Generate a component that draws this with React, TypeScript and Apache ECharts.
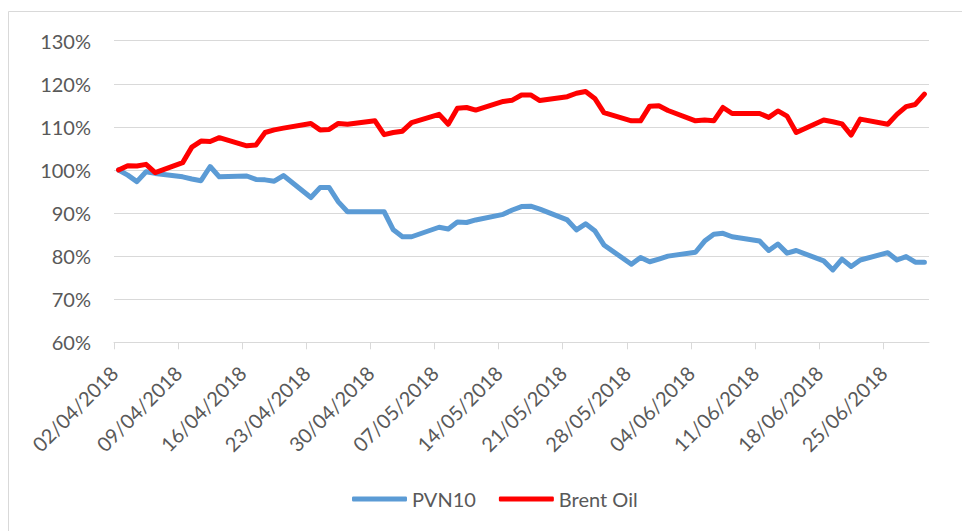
import React, { useEffect, useRef } from "react";
import * as echarts from "echarts";

const dates: string[] = [
  "02/04/2018", "03/04/2018", "04/04/2018", "05/04/2018", "06/04/2018",
  "09/04/2018", "10/04/2018", "11/04/2018", "12/04/2018", "13/04/2018",
  "16/04/2018", "17/04/2018", "18/04/2018", "19/04/2018", "20/04/2018",
  "23/04/2018", "24/04/2018", "25/04/2018", "26/04/2018", "27/04/2018",
  "30/04/2018", "01/05/2018", "02/05/2018", "03/05/2018", "04/05/2018",
  "07/05/2018", "08/05/2018", "09/05/2018", "10/05/2018", "11/05/2018",
  "14/05/2018", "15/05/2018", "16/05/2018", "17/05/2018", "18/05/2018",
  "21/05/2018", "22/05/2018", "23/05/2018", "24/05/2018", "25/05/2018",
  "28/05/2018", "29/05/2018", "30/05/2018", "31/05/2018", "01/06/2018",
  "04/06/2018", "05/06/2018", "06/06/2018", "07/06/2018", "08/06/2018",
  "11/06/2018", "12/06/2018", "13/06/2018", "14/06/2018", "15/06/2018",
  "18/06/2018", "19/06/2018", "20/06/2018", "21/06/2018", "22/06/2018",
  "25/06/2018", "26/06/2018", "27/06/2018", "28/06/2018", "29/06/2018",
];

const pvn10: number[] = [
  100, 98.8, 97.3, 99.6, 99.2,
  98.4, 97.9, 97.5, 100.8, 98.4,
  98.6, 97.8, 97.7, 97.4, 98.7,
  93.6, 95.9, 95.9, 92.6, 90.3,
  90.3, 90.3, 86.1, 84.5, 84.5,
  86.7, 86.3, 87.9, 87.8, 88.4,
  89.7, 90.7, 91.5, 91.6, 90.9,
  88.4, 86.1, 87.5, 85.9, 82.6,
  78.1, 79.7, 78.7, 79.3, 80.0,
  80.9, 83.5, 85.1, 85.3, 84.5,
  83.5, 81.3, 82.8, 80.7, 81.3,
  78.9, 76.8, 79.3, 77.6, 79.1,
  80.8, 79.1, 79.9, 78.6, 78.6,
];

const brentOil: number[] = [
  100, 101.0, 100.9, 101.3, 99.4,
  101.7, 105.3, 106.7, 106.6, 107.5,
  105.6, 105.8, 108.7, 109.3, 109.7,
  110.8, 109.3, 109.4, 110.8, 110.6,
  111.4, 108.2, 108.7, 109.0, 111.0,
  112.9, 110.6, 114.3, 114.5, 113.9,
  115.9, 116.2, 117.4, 117.4, 116.1,
  117.0, 117.8, 118.2, 116.6, 113.3,
  111.4, 111.4, 114.8, 114.9, 113.8,
  111.4, 111.6, 111.4, 114.5, 113.1,
  113.1, 112.2, 113.7, 112.5, 108.7,
  111.6, 111.2, 110.7, 108.1, 111.8,
  110.6, 112.9, 114.7, 115.2, 117.6,
];

// tick labels (days from 02/04/2018, every 7 days)
const tickDates: string[] = [
  "02/04/2018", "09/04/2018", "16/04/2018", "23/04/2018", "30/04/2018",
  "07/05/2018", "14/05/2018", "21/05/2018", "28/05/2018", "04/06/2018",
  "11/06/2018", "18/06/2018", "25/06/2018",
];
const axisStart = "02/04/2018";
const axisEnd = "30/06/2018";

const DAY = 86400000;
function parseDate(s: string): number {
  const [d, m, y] = s.split("/").map(Number);
  return Date.UTC(y, m - 1, d);
}
const t0 = parseDate(axisStart);
function dayOffset(s: string): number {
  return Math.round((parseDate(s) - t0) / DAY);
}
function fmt(v: number): string {
  const dt = new Date(t0 + Math.round(v) * DAY);
  const dd = String(dt.getUTCDate()).padStart(2, "0");
  const mm = String(dt.getUTCMonth() + 1).padStart(2, "0");
  return `${dd}/${mm}/${dt.getUTCFullYear()}`;
}

export default function App() {
  const ref = useRef<HTMLDivElement>(null);
  useEffect(() => {
    document.body.style.margin = "0";
    if (!ref.current) return;
    const chart = echarts.init(ref.current, undefined, { renderer: "svg" });
    const tickVals = tickDates.map(dayOffset);
    const font = "Lato, 'Open Sans', sans-serif";
    chart.setOption({
      animation: false,
      backgroundColor: "#ffffff",
      textStyle: { fontFamily: font },
      graphic: [
        {
          type: "rect",
          shape: { x: 8.5, y: 11.5, width: 2000, height: 2000 },
          style: { fill: "none", stroke: "#d9d9d9", lineWidth: 1 },
          silent: true,
        },
      ],
      grid: { left: 114, right: 33, top: 40.7, bottom: 188.7 },
      legend: {
        left: 347,
        top: 484,
        icon: "roundRect",
        itemWidth: 55,
        itemHeight: 5,
        itemGap: 23,
        textStyle: { fontFamily: font, fontSize: 20, color: "#595959" },
        data: ["PVN10", "Brent Oil"],
      },
      xAxis: {
        type: "value",
        min: 0,
        max: dayOffset(axisEnd),
        interval: 7,
        axisLine: { show: true, lineStyle: { color: "#d9d9d9", width: 1 } },
        axisTick: {
          show: true,
          length: 7,
          lineStyle: { color: "#d9d9d9" },
          customValues: tickVals,
        },
        splitLine: { show: false },
        axisLabel: {
          rotate: 45,
          margin: 27,
          fontSize: 20,
          color: "#595959",
          fontFamily: font,
          customValues: tickVals,
          formatter: (v: number) => fmt(v),
        },
      },
      yAxis: {
        type: "value",
        min: 60,
        max: 130,
        interval: 10,
        axisLine: { show: false },
        axisTick: { show: false },
        splitLine: { lineStyle: { color: "#d9d9d9", width: 1 } },
        axisLabel: {
          margin: 23,
          fontSize: 20,
          color: "#595959",
          fontFamily: font,
          formatter: (v: number) => `${v}%`,
        },
      },
      series: [
        {
          name: "PVN10",
          type: "line",
          symbol: "none",
          data: dates.map((d, i) => [dayOffset(d) + 0.5, pvn10[i]]),
          lineStyle: { color: "#5b9bd5", width: 5, cap: "round", join: "round" },
          itemStyle: { color: "#5b9bd5" },
        },
        {
          name: "Brent Oil",
          type: "line",
          symbol: "none",
          data: dates.map((d, i) => [dayOffset(d) + 0.5, brentOil[i]]),
          lineStyle: { color: "#ff0000", width: 5, cap: "round", join: "round" },
          itemStyle: { color: "#ff0000" },
        },
      ],
    });
    return () => chart.dispose();
  }, []);
  return <div ref={ref} style={{ width: 962, height: 531 }} />;
}
